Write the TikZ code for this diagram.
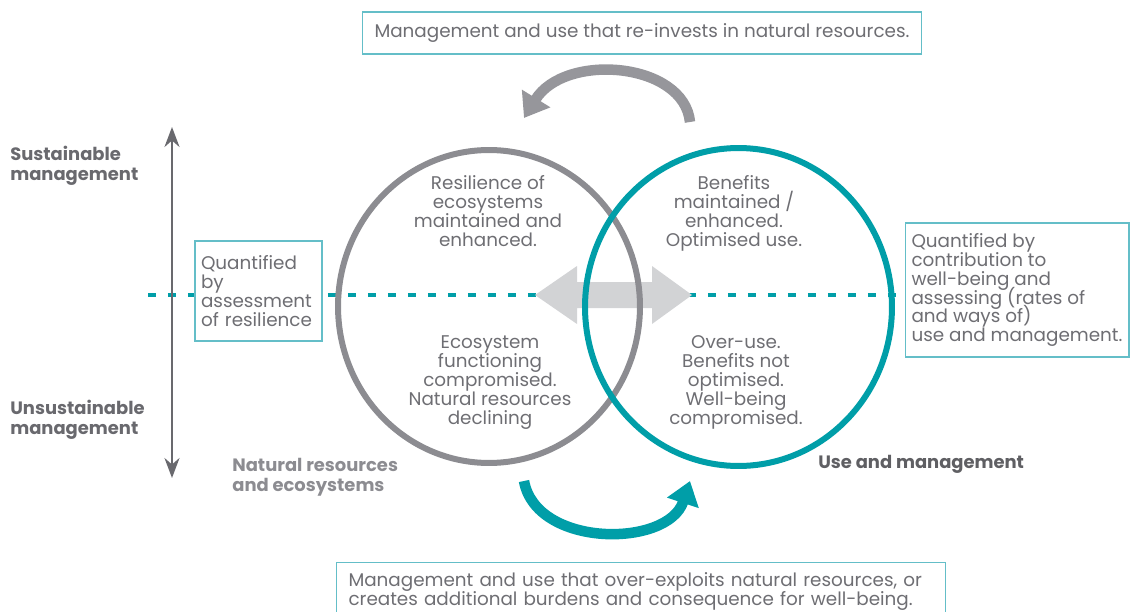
\documentclass[tikz,border=0pt]{standalone}
\usepackage{fontspec}
\setmainfont{Poppins}
\usetikzlibrary{arrows.meta,shapes.geometric}

\definecolor{ringteal}{RGB}{0,158,168}
\definecolor{boxteal}{RGB}{100,190,200}
\definecolor{ringgray}{RGB}{140,140,145}
\definecolor{txtgray}{RGB}{110,110,115}
\definecolor{axisgray}{RGB}{105,105,110}
\definecolor{arrowgray}{RGB}{150,150,155}
\definecolor{arrowlight}{RGB}{210,211,213}

\newcommand{\bodyfont}{\fontsize{10.45}{10.8}\selectfont\lineskiplimit=-10pt\relax}

\begin{document}
\begin{tikzpicture}[
     x = 0.02cm, y = -0.02cm,
     every node/.style = {font=\bodyfont, text=txtgray},
     ring/.style = {ellipse, line width=0.12cm, inner sep=0, outer sep=0},
     ringtext/.style = {align=center, anchor=north, inner sep=0},
     infobox/.style = {draw=boxteal, fill=white, line width=0.6pt, align=left},
     sidelabel/.style = {font=\fontsize{10.2}{11.4}\selectfont\bfseries, align=left, anchor=north west, inner sep=0},
     cycarrow/.style = {line width=0.21cm, -{Triangle[length=0.46cm, width=0.64cm]}}
    ]
    \useasboundingbox (0,0) rectangle (1130,612);

    % level line and the double arrow behind the rings
    \coordinate (dashL) at (148,295);
    \coordinate (dashR) at (896,295);
    \draw [ringteal, line width=0.08cm, dash pattern=on 0.16cm off 0.24cm] (dashL) -- (dashR);
    \fill [arrowlight] (535,295) -- (577,266) -- (577,282) -- (652,282) -- (652,266)
       -- (692,295) -- (652,324) -- (652,308) -- (577,308) -- (577,324) -- cycle;

    \node [ring, draw=ringgray, minimum width=6.04cm, minimum height=6.26cm] (nature) at (489,306.5) {};
    \node [ring, draw=ringteal, minimum width=6.14cm, minimum height=6.36cm] (usage) at (738.5,307) {};

    \node [ringtext] (resil) at (488,175) {Resilience of\\ecosystems\\maintained and\\enhanced.};
    \node [ringtext] (benef) at (734,175) {Benefits\\maintained /\\enhanced.\\Optimised use.};
    \node [ringtext] (ecofn) at (490,335) {Ecosystem\\functioning\\compromised.\\Natural resources\\declining};
    \node [ringtext] (overuse) at (736,335) {Over-use.\\Benefits not\\optimised.\\Well-being\\compromised.};

    \node [infobox, minimum width=2.54cm, minimum height=2cm, text width=2.3cm] (qres) at (258.5,291)
       {Quantified\\by\\assessment\\of resilience};
    \node [infobox, inner xsep=0pt, minimum width=4.48cm, minimum height=2.68cm] (quse) at (1017,290)
       {Quantified by\\contribution to\\well-being and\\assessing (rates of\\and ways of)\\use and management.};
    \node [infobox, align=center, minimum width=11.2cm, minimum height=0.84cm] (reinvest) at (642,33)
       {Management and use that re-invests in natural resources.};
    \node [infobox, anchor=north west, inner xsep=0.24cm, inner ysep=0.2cm, text width=11.7cm] (overexp) at (336,562)
       {Management and use that over-exploits natural resources, or\\creates additional burdens and consequence for well-being.};

    % sustainability axis
    \coordinate (sustop) at (172,127);
    \coordinate (susbot) at (172,478);
    \draw [axisgray, line width=0.05cm, {Stealth[length=0.4cm, width=0.3cm]}-{Stealth[length=0.4cm, width=0.3cm]}] (sustop) -- (susbot);
    \node [sidelabel, text=axisgray] (sustain) at (10,146) {Sustainable\\management};
    \node [sidelabel, text=axisgray] (unsustain) at (10,400) {Unsustainable\\management};
    \node [sidelabel, text=ringgray] (natlabel) at (232,458) {Natural resources\\and ecosystems};
    \node [sidelabel, text=axisgray!90!black] (uselabel) at (818,455) {Use and management};

    % feedback arrows
    \coordinate (topA) at (690,122);
    \coordinate (topB) at (524,118);
    \draw [cycarrow, arrowgray] (topA) .. controls (684,62) and (565,52) .. (topB);
    \coordinate (botA) at (524,481);
    \coordinate (botB) at (690,481);
    \draw [cycarrow, ringteal] (botA) .. controls (536,548) and (668,548) .. (botB);

\end{tikzpicture}
\end{document}
